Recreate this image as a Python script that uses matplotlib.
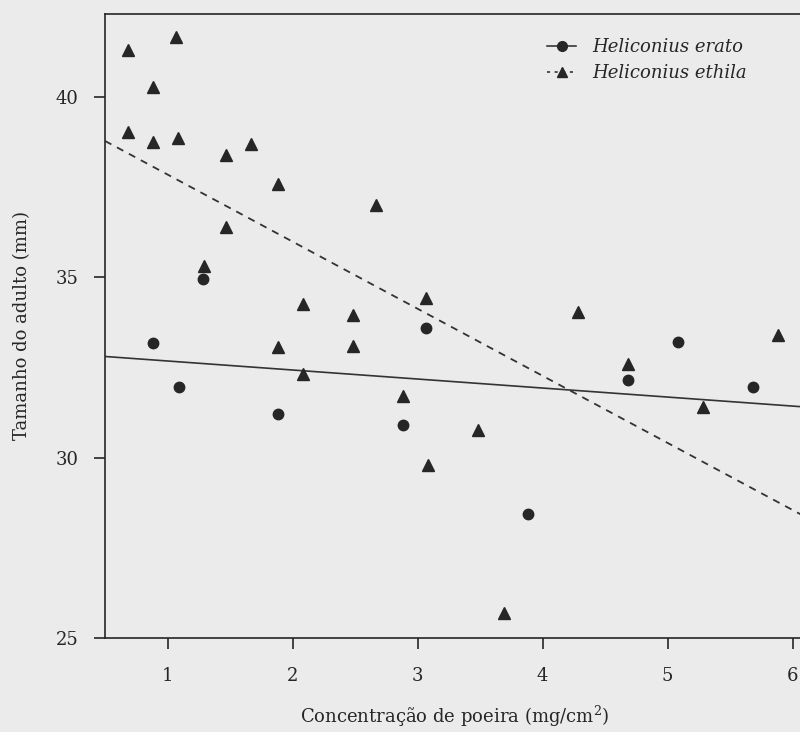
import matplotlib
matplotlib.use("Agg")
import matplotlib.pyplot as plt
from matplotlib.lines import Line2D
import numpy as np

# Data
erato_x = [0.88, 1.09, 1.28, 1.88, 2.88, 3.07, 3.88, 4.68, 5.08, 5.68]
erato_y = [33.17, 31.97, 34.94, 31.2, 30.9, 33.6, 28.44, 32.14, 33.2, 31.97]

ethila_x = [0.68, 1.07, 0.88, 0.68, 0.88, 1.08, 1.47, 1.67, 1.88, 2.67, 1.47, 1.29,
            2.08, 2.48, 1.88, 2.48, 3.07, 4.28, 5.88, 2.08, 2.88, 4.68, 3.48, 3.08,
            5.28, 3.69]
ethila_y = [41.3, 41.67, 40.28, 39.03, 38.75, 38.86, 38.4, 38.7, 37.6, 37.0, 36.4, 35.3,
            34.25, 33.95, 33.06, 33.1, 34.44, 34.05, 33.4, 32.33, 31.7, 32.6, 30.78, 29.8,
            31.4, 25.7]

# Fitted lines (intercept, slope)
erato_fit = (32.93, -0.25)
ethila_fit = (39.71, -1.86)

x_ticks = [1, 2, 3, 4, 5, 6]
y_ticks = [25, 30, 35, 40]
series_names = ["Heliconius erato", "Heliconius ethila"]
x_label = "Concentração de poeira (mg/cm$^2$)"
y_label = "Tamanho do adulto (mm)"

BG = "#ebebeb"
INK = "#262626"
plt.rcParams["font.family"] = ["DejaVu Serif"]
plt.rcParams["mathtext.fontset"] = "dejavuserif"

fig = plt.figure(figsize=(8.0, 7.32), dpi=100, facecolor=BG)
ax = fig.add_axes([105 / 800, 1 - 638 / 732, (830 - 105) / 800, (638 - 14) / 732])
ax.set_facecolor(BG)
ax.set_xlim(0.5, 6.3)
ax.set_ylim(25, 42.3)

xl = np.array(ax.get_xlim())
ax.plot(xl, erato_fit[0] + erato_fit[1] * xl, color="#333333", lw=1.2, ls="-")
ax.plot(xl, ethila_fit[0] + ethila_fit[1] * xl, color="#333333", lw=1.3, ls=(0, (4, 3.5)))

ax.plot(erato_x, erato_y, ls="none", marker="o", ms=7.5, color=INK, clip_on=False)
ax.plot(ethila_x, ethila_y, ls="none", marker="^", ms=8.5, color=INK, clip_on=False)

for s in ax.spines.values():
    s.set_color(INK)
    s.set_linewidth(1.2)

ax.set_xticks(x_ticks)
ax.set_yticks(y_ticks)
ax.tick_params(direction="out", length=8, width=1.2, color=INK, labelcolor=INK,
               labelsize=13)
ax.tick_params(axis="x", pad=13)
ax.tick_params(axis="y", pad=11)
ax.set_xlabel(x_label, fontsize=13, color=INK)
ax.xaxis.set_label_coords((455 - 105) / 725, -66 / 624)
ax.set_ylabel(y_label, fontsize=13, color=INK, labelpad=18)

handles = [
    Line2D([], [], color=INK, lw=1.1, ls="-", marker="o", ms=7),
    Line2D([], [], color=INK, lw=1.1, ls=(0, (2, 3)), marker="^", ms=7.5),
]
leg = ax.legend(handles, series_names, loc="upper left",
                bbox_to_anchor=((540 - 105) / 725, 1 - 17 / 624),
                frameon=False, handlelength=1.6, handletextpad=0.9,
                labelspacing=0.45, borderaxespad=0,
                prop={"family": "DejaVu Serif", "style": "italic", "size": 13})
for t in leg.get_texts():
    t.set_color(INK)

fig.savefig("out.png", dpi=100, facecolor=BG)
